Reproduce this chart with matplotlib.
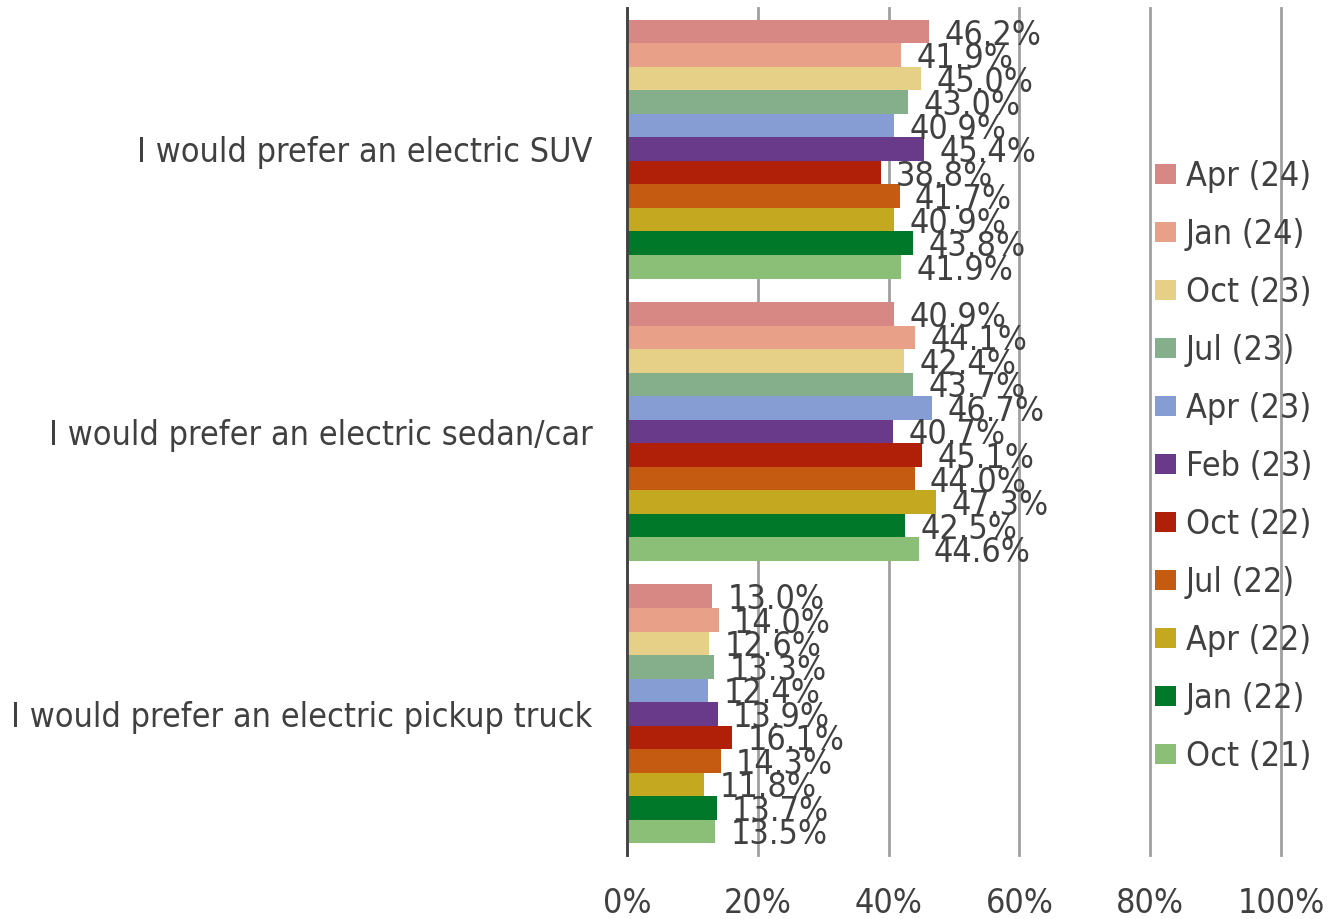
import matplotlib
matplotlib.use("Agg")
import matplotlib.pyplot as plt
import numpy as np

categories = ["I would prefer an electric SUV",
              "I would prefer an electric sedan/car",
              "I would prefer an electric pickup truck"]
series = ["Apr (24)", "Jan (24)", "Oct (23)", "Jul (23)", "Apr (23)", "Feb (23)",
          "Oct (22)", "Jul (22)", "Apr (22)", "Jan (22)", "Oct (21)"]
suv = [46.2, 41.9, 45.0, 43.0, 40.9, 45.4, 38.8, 41.7, 40.9, 43.8, 41.9]
sedan = [40.9, 44.1, 42.4, 43.7, 46.7, 40.7, 45.1, 44.0, 47.3, 42.5, 44.6]
truck = [13.0, 14.0, 12.6, 13.3, 12.4, 13.9, 16.1, 14.3, 11.8, 13.7, 13.5]
colors = ["#D88884", "#E8A088", "#E6CF86", "#84AF8A", "#869DD3", "#6A3A8A",
          "#B02008", "#C55B10", "#C4A820", "#00782A", "#8BBF78"]
xticks = [0, 20, 40, 60, 80, 100]
xticklabels = ["0%", "20%", "40%", "60%", "80%", "100%"]

values = np.array([suv, sedan, truck])  # shape (cat, series)
TXT = "#404040"
FS = 24.5
plt.rcParams["font.family"] = ["DejaVu Sans"]
plt.rcParams["font.stretch"] = "condensed"

fig = plt.figure(figsize=(13.30, 9.19), dpi=100)
ax = fig.add_axes([627/1330, 1 - 855/919, (1281-627)/1330, (855-8)/919])

n = len(series)
h = 0.0833
ypos = np.arange(len(categories))
for j in range(n):
    y = ypos - (n * h) / 2 + h * (j + 0.5)
    vals = values[:, j]
    ax.barh(y, vals, height=h, color=colors[j], label=series[j], zorder=3)
    for yy, v in zip(y, vals):
        ax.annotate(f"{v:.1f}%", xy=(v, yy), xytext=(11, -2.5), textcoords="offset points",
                    ha="left", va="center", fontsize=FS, color=TXT, zorder=4)

ax.set_ylim(2.5, -0.5)
ax.set_xlim(0, 100)
ax.set_yticks(ypos)
ax.set_yticklabels(categories, fontsize=FS, color=TXT)
ax.set_xticks(xticks)
ax.set_xticklabels(xticklabels, fontsize=FS, color=TXT)
ax.tick_params(axis="both", length=0)
ax.tick_params(axis="x", pad=23)
ax.tick_params(axis="y", pad=25)
ax.xaxis.grid(True, color="#A0A0A0", linewidth=2, zorder=0)
ax.set_axisbelow(True)
for gl in ax.get_xgridlines():
    gl.set_clip_on(False)
for s in ["top", "right", "bottom"]:
    ax.spines[s].set_visible(False)
ax.spines["left"].set_color(TXT)
ax.spines["left"].set_linewidth(2)
ax.spines["left"].set_zorder(5)

handles, labels = ax.get_legend_handles_labels()
leg = fig.legend(handles, labels, loc="upper left",
                 bbox_to_anchor=(1155/1330, 1 - 160/919), frameon=False,
                 fontsize=FS, handlelength=0.62, handleheight=0.53,
                 handletextpad=0.28, labelspacing=0.735, borderaxespad=0,
                 borderpad=0, labelcolor=TXT)

fig.savefig("out.png", dpi=100)
